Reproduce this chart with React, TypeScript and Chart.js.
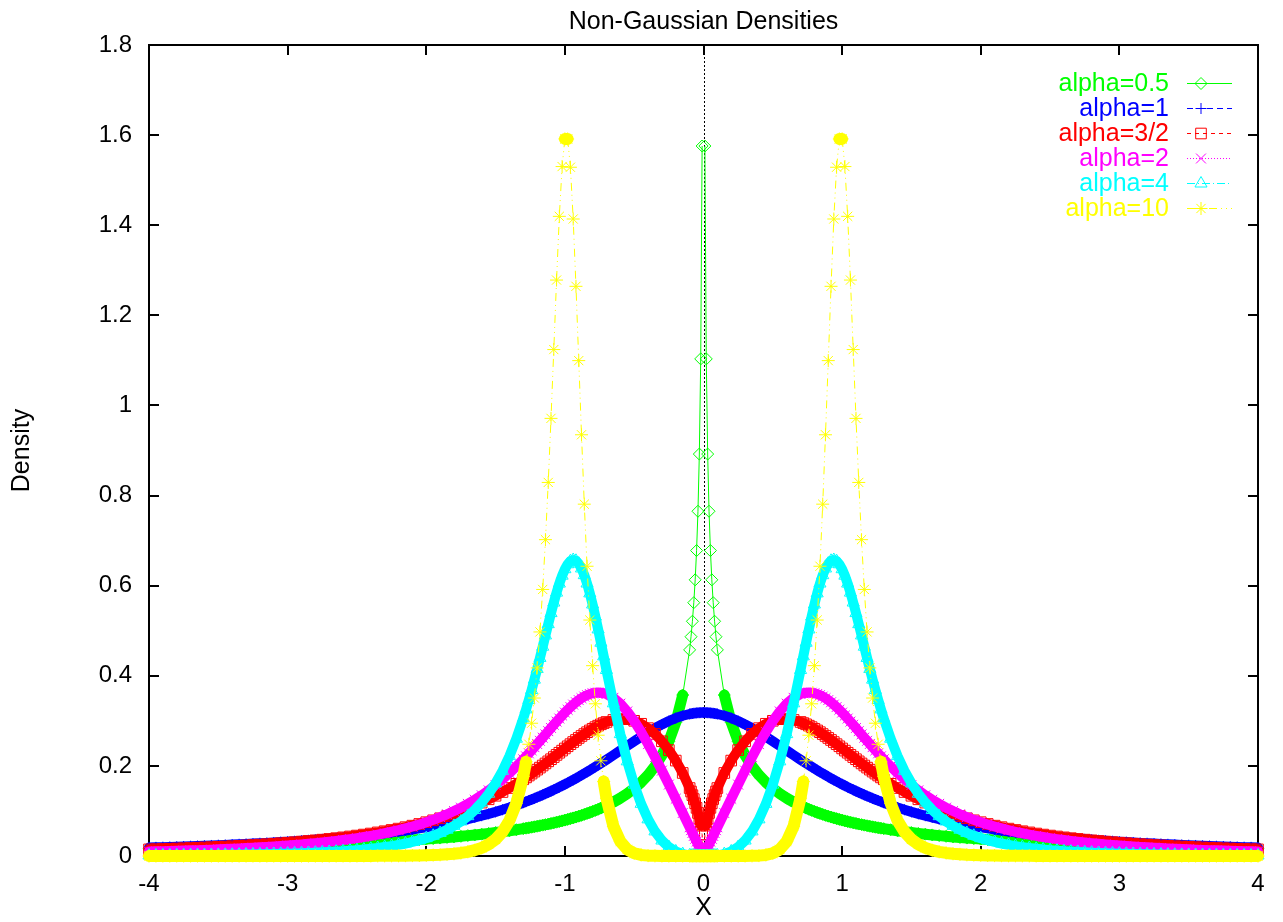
import React, { useEffect, useRef } from 'react';
import { Chart, registerables } from 'chart.js';

Chart.register(...registerables);

// Sample positions for x >= 0 (the densities are symmetric in x)
const xHalf = [
  0, 0.01, 0.02, 0.03, 0.04, 0.05, 0.06, 0.07, 0.08, 0.09, 0.1,
  0.15, 0.2, 0.25, 0.3, 0.35, 0.4, 0.45, 0.5, 0.55, 0.6, 0.65, 0.7,
  0.72, 0.74, 0.76, 0.78, 0.8, 0.82, 0.84, 0.86, 0.88, 0.9,
  0.92, 0.94, 0.96, 0.98, 1.0, 1.02, 1.04, 1.06, 1.08, 1.1,
  1.12, 1.14, 1.16, 1.18, 1.2, 1.22, 1.24, 1.26, 1.28, 1.3,
  1.35, 1.4, 1.45, 1.5, 1.55, 1.6, 1.65, 1.7, 1.75, 1.8, 1.85, 1.9, 1.95, 2.0,
  2.05, 2.1, 2.15, 2.2, 2.25, 2.3, 2.35, 2.4, 2.45, 2.5,
  2.55, 2.6, 2.65, 2.7, 2.75, 2.8, 2.85, 2.9, 2.95, 3.0,
  3.05, 3.1, 3.15, 3.2, 3.25, 3.3, 3.35, 3.4, 3.45, 3.5,
  3.55, 3.6, 3.65, 3.7, 3.75, 3.8, 3.85, 3.9, 3.95, 4.0,
];

const alpha05Half = [
  null, 1.5758, 1.1033, 0.8921, 0.7652, 0.6779, 0.6130, 0.5622, 0.5210, 0.4867, 0.4575,
  0.3573, 0.2966, 0.2546, 0.2235, 0.1993, 0.1797, 0.1636, 0.1501, 0.1385, 0.1284, 0.1196, 0.1119,
  0.1091, 0.1063, 0.1037, 0.1012, 0.0989, 0.0966, 0.0944, 0.0923, 0.0902, 0.0883,
  0.0864, 0.0846, 0.0829, 0.0812, 0.0796, 0.0780, 0.0765, 0.0750, 0.0736, 0.0723,
  0.0709, 0.0697, 0.0684, 0.0672, 0.0660, 0.0649, 0.0638, 0.0627, 0.0617, 0.0607,
  0.0583, 0.0560, 0.0539, 0.0520, 0.0501, 0.0484, 0.0468, 0.0452, 0.0437, 0.0424, 0.0411, 0.0398, 0.0386, 0.0375,
  0.0364, 0.0354, 0.0345, 0.0335, 0.0326, 0.0318, 0.0310, 0.0302, 0.0295, 0.0288,
  0.0281, 0.0274, 0.0268, 0.0262, 0.0256, 0.0250, 0.0245, 0.0240, 0.0235, 0.0230,
  0.0225, 0.0220, 0.0216, 0.0212, 0.0208, 0.0204, 0.0200, 0.0196, 0.0193, 0.0189,
  0.0186, 0.0182, 0.0179, 0.0176, 0.0173, 0.0170, 0.0167, 0.0164, 0.0162, 0.0159,
];

const alpha1Half = [
  0.3183, 0.3183, 0.3182, 0.3180, 0.3178, 0.3175, 0.3172, 0.3168, 0.3163, 0.3158, 0.3152,
  0.3113, 0.3061, 0.2996, 0.2920, 0.2836, 0.2744, 0.2647, 0.2546, 0.2444, 0.2341, 0.2238, 0.2136,
  0.2096, 0.2057, 0.2018, 0.1979, 0.1941, 0.1903, 0.1866, 0.1830, 0.1794, 0.1759,
  0.1724, 0.1690, 0.1656, 0.1624, 0.1592, 0.1560, 0.1529, 0.1499, 0.1469, 0.1440,
  0.1412, 0.1384, 0.1357, 0.1331, 0.1305, 0.1279, 0.1254, 0.1230, 0.1206, 0.1183,
  0.1128, 0.1075, 0.1026, 0.0979, 0.0936, 0.0894, 0.0855, 0.0818, 0.0784, 0.0751, 0.0720, 0.0690, 0.0663, 0.0637,
  0.0612, 0.0588, 0.0566, 0.0545, 0.0525, 0.0506, 0.0488, 0.0471, 0.0455, 0.0439,
  0.0424, 0.0410, 0.0397, 0.0384, 0.0372, 0.0360, 0.0349, 0.0338, 0.0328, 0.0318,
  0.0309, 0.0300, 0.0291, 0.0283, 0.0275, 0.0268, 0.0260, 0.0253, 0.0247, 0.0240,
  0.0234, 0.0228, 0.0222, 0.0217, 0.0211, 0.0206, 0.0201, 0.0196, 0.0192, 0.0187,
];

const alpha15Half = [
  0, 0.0477, 0.0675, 0.0827, 0.0955, 0.1068, 0.1169, 0.1263, 0.1350, 0.1431, 0.1508,
  0.1843, 0.2118, 0.2351, 0.2546, 0.2709, 0.2838, 0.2935, 0.3001, 0.3036, 0.3041, 0.3020, 0.2975,
  0.2950, 0.2923, 0.2893, 0.2860, 0.2824, 0.2787, 0.2748, 0.2706, 0.2664, 0.2620,
  0.2575, 0.2529, 0.2482, 0.2435, 0.2387, 0.2339, 0.2292, 0.2244, 0.2196, 0.2148,
  0.2101, 0.2054, 0.2008, 0.1962, 0.1917, 0.1873, 0.1829, 0.1786, 0.1744, 0.1703,
  0.1603, 0.1509, 0.1420, 0.1337, 0.1258, 0.1185, 0.1117, 0.1053, 0.0993, 0.0938, 0.0886, 0.0837, 0.0792, 0.0750,
  0.0711, 0.0674, 0.0640, 0.0608, 0.0578, 0.0550, 0.0524, 0.0499, 0.0476, 0.0454,
  0.0434, 0.0414, 0.0396, 0.0379, 0.0363, 0.0348, 0.0334, 0.0320, 0.0307, 0.0295,
  0.0284, 0.0273, 0.0263, 0.0253, 0.0244, 0.0235, 0.0226, 0.0218, 0.0211, 0.0204,
  0.0197, 0.0190, 0.0184, 0.0178, 0.0172, 0.0167, 0.0161, 0.0156, 0.0152, 0.0147,
];

const alpha2Half = [
  0, 0.0064, 0.0127, 0.0191, 0.0255, 0.0318, 0.0382, 0.0446, 0.0509, 0.0573, 0.0637,
  0.0954, 0.1271, 0.1585, 0.1895, 0.2195, 0.2483, 0.2752, 0.2996, 0.3208, 0.3381, 0.3511, 0.3594,
  0.3613, 0.3624, 0.3628, 0.3624, 0.3613, 0.3595, 0.3570, 0.3539, 0.3502, 0.3460,
  0.3412, 0.3361, 0.3305, 0.3245, 0.3183, 0.3118, 0.3051, 0.2983, 0.2913, 0.2842,
  0.2771, 0.2699, 0.2627, 0.2556, 0.2486, 0.2416, 0.2346, 0.2279, 0.2212, 0.2146,
  0.1989, 0.1841, 0.1703, 0.1575, 0.1457, 0.1348, 0.1249, 0.1157, 0.1073, 0.0997, 0.0926, 0.0862, 0.0803, 0.0749,
  0.0699, 0.0654, 0.0612, 0.0573, 0.0538, 0.0505, 0.0475, 0.0447, 0.0421, 0.0397,
  0.0375, 0.0354, 0.0335, 0.0317, 0.0301, 0.0285, 0.0271, 0.0257, 0.0245, 0.0233,
  0.0222, 0.0211, 0.0202, 0.0192, 0.0184, 0.0176, 0.0168, 0.0161, 0.0154, 0.0148,
  0.0141, 0.0136, 0.0130, 0.0125, 0.0120, 0.0115, 0.0111, 0.0107, 0.0103, 0.0099,
];

const alpha4Half = [
  0, 0, 0, 0, 0.0001, 0.0002, 0.0003, 0.0004, 0.0007, 0.0009, 0.0013,
  0.0043, 0.0102, 0.0199, 0.0344, 0.0546, 0.0814, 0.1158, 0.1585, 0.2101, 0.2705, 0.3389, 0.4129,
  0.4432, 0.4734, 0.5029, 0.5314, 0.5582, 0.5829, 0.6048, 0.6233, 0.6382, 0.6489,
  0.6552, 0.6570, 0.6544, 0.6475, 0.6366, 0.6222, 0.6047, 0.5846, 0.5626, 0.5391,
  0.5146, 0.4896, 0.4645, 0.4396, 0.4151, 0.3914, 0.3684, 0.3464, 0.3254, 0.3055,
  0.2604, 0.2217, 0.1890, 0.1614, 0.1382, 0.1187, 0.1022, 0.0884, 0.0767, 0.0668, 0.0583, 0.0511, 0.0449, 0.0396,
  0.0351, 0.0311, 0.0277, 0.0247, 0.0220, 0.0198, 0.0177, 0.0160, 0.0144, 0.0130,
  0.0118, 0.0107, 0.0097, 0.0089, 0.0081, 0.0074, 0.0068, 0.0062, 0.0057, 0.0052,
  0.0048, 0.0044, 0.0041, 0.0038, 0.0035, 0.0033, 0.0030, 0.0028, 0.0026, 0.0024,
  0.0023, 0.0021, 0.0020, 0.0018, 0.0017, 0.0016, 0.0015, 0.0014, 0.0013, 0.0012,
];

const alpha10Half = [
  0, 0, 0, 0, 0, 0, 0, 0, 0, 0, 0,
  0, 0, 0, 0.0001, 0.0003, 0.0008, 0.0024, 0.0062, 0.0147, 0.0321, 0.0659, 0.1284,
  0.1653, 0.2113, 0.2681, 0.3378, 0.4224, 0.5237, 0.6431, 0.7809, 0.9349, 1.0995,
  1.2644, 1.4138, 1.5287, 1.5914, 1.5915, 1.5302, 1.4197, 1.2783, 1.1240, 0.9713,
  0.8291, 0.7021, 0.5916, 0.4973, 0.4175, 0.3506, 0.2947, 0.2480, 0.2091, 0.1767,
  0.1170, 0.0785, 0.0534, 0.0368, 0.0257, 0.0181, 0.0129, 0.0093, 0.0068, 0.0050, 0.0037, 0.0027, 0.0021, 0.0016,
  0.0012, 0.0009, 0.0007, 0.0005, 0.0004, 0.0003, 0.0003, 0.0002, 0.0002, 0.0001,
  0.0001, 0.0001, 0.0001, 0.0001, 0, 0, 0, 0, 0, 0,
  0, 0, 0, 0, 0, 0, 0, 0, 0, 0,
  0, 0, 0, 0, 0, 0, 0, 0, 0, 0,
];

const seriesNames = ['alpha=0.5', 'alpha=1', 'alpha=3/2', 'alpha=2', 'alpha=4', 'alpha=10'];
const seriesHalves = [alpha05Half, alpha1Half, alpha15Half, alpha2Half, alpha4Half, alpha10Half];

const xTickValues = [-4, -3, -2, -1, 0, 1, 2, 3, 4];
const xTickLabels = ['-4', '-3', '-2', '-1', '0', '1', '2', '3', '4'];
const yTickLabels = ['0', '0.2', '0.4', '0.6', '0.8', '1', '1.2', '1.4', '1.6', '1.8'];

const chartTitle = 'Non-Gaussian Densities';
const xTitle = 'X';
const yTitle = 'Density';

// ---- styles ----
const COLORS = ['#00ff00', '#0000ff', '#ff0000', '#ff00ff', '#00ffff', '#ffff00'];
const POINT_STYLES = ['rectRot', 'cross', 'rect', 'crossRot', 'triangle', 'star'];
const POINT_RADII = [6, 5.5, 7.5, 7, 7, 6.5];
// width of the dense marker band where the sampled markers overlap
const BAND_WIDTHS = [11, 10, 10, 10, 10, 12];
const DASHES: number[][] = [[], [6, 4], [4, 4], [1, 2], [8, 3, 1, 3], [8, 4, 1, 4, 1, 4]];
const STEEP = 6; // pixel slope above which markers separate
const FONT = '"Liberation Sans", Arial, Helvetica, sans-serif';
const FS_TICK = 24;
const FS_TEXT = 25;

const mirrorX = (h: number[]) => [...h.slice(1).reverse().map((v) => -v), ...h];
const mirrorY = (h: (number | null)[]) => [...h.slice(1).reverse(), ...h];

function drawMarker(ctx: CanvasRenderingContext2D, style: string, x: number, y: number, r: number) {
  ctx.beginPath();
  const d = r * Math.SQRT1_2;
  switch (style) {
    case 'rectRot':
      ctx.moveTo(x - r, y); ctx.lineTo(x, y - r); ctx.lineTo(x + r, y); ctx.lineTo(x, y + r); ctx.closePath();
      break;
    case 'cross':
      ctx.moveTo(x - r, y); ctx.lineTo(x + r, y); ctx.moveTo(x, y - r); ctx.lineTo(x, y + r);
      break;
    case 'rect':
      ctx.rect(x - d, y - d, 2 * d, 2 * d);
      break;
    case 'crossRot':
      ctx.moveTo(x - d, y - d); ctx.lineTo(x + d, y + d); ctx.moveTo(x - d, y + d); ctx.lineTo(x + d, y - d);
      break;
    case 'triangle': {
      const s = r * Math.sin(Math.PI / 3);
      ctx.moveTo(x, y - r); ctx.lineTo(x + s, y + r / 2); ctx.lineTo(x - s, y + r / 2); ctx.closePath();
      break;
    }
    case 'star':
      ctx.moveTo(x - r, y); ctx.lineTo(x + r, y); ctx.moveTo(x, y - r); ctx.lineTo(x, y + r);
      ctx.moveTo(x - d, y - d); ctx.lineTo(x + d, y + d); ctx.moveTo(x - d, y + d); ctx.lineTo(x + d, y - d);
      break;
  }
  ctx.stroke();
}

const framePlugin = {
  id: 'gnuFrame',
  beforeDatasetsDraw(chart: any) {
    const { ctx, chartArea: a, scales } = chart;
    ctx.save();
    ctx.strokeStyle = '#000';
    ctx.lineWidth = 2;
    ctx.strokeRect(a.left, a.top, a.right - a.left, a.bottom - a.top);
    const tl = 10;
    ctx.beginPath();
    xTickValues.forEach((v) => {
      const px = Math.round(scales.x.getPixelForValue(v));
      ctx.moveTo(px, a.bottom); ctx.lineTo(px, a.bottom - tl);
      ctx.moveTo(px, a.top); ctx.lineTo(px, a.top + tl);
    });
    scales.y.ticks.forEach((t: any) => {
      const py = Math.round(scales.y.getPixelForValue(t.value));
      ctx.moveTo(a.left, py); ctx.lineTo(a.left + tl, py);
      ctx.moveTo(a.right, py); ctx.lineTo(a.right - tl, py);
    });
    ctx.stroke();
    // zero axis
    const x0 = Math.round(scales.x.getPixelForValue(0)) + 0.5;
    ctx.lineWidth = 1;
    ctx.setLineDash([2, 2]);
    ctx.beginPath();
    ctx.moveTo(x0, a.top); ctx.lineTo(x0, a.bottom);
    ctx.stroke();
    ctx.restore();
  },
  afterDraw(chart: any) {
    const { ctx, chartArea: a } = chart;
    ctx.save();
    ctx.font = `${FS_TEXT}px ${FONT}`;
    ctx.fillStyle = '#000';
    ctx.textAlign = 'center';
    ctx.textBaseline = 'middle';
    const cx = (a.left + a.right) / 2;
    ctx.fillText(chartTitle, cx, 22);
    ctx.fillText(xTitle, cx, 908);
    ctx.save();
    ctx.translate(22, (a.top + a.bottom) / 2);
    ctx.rotate(-Math.PI / 2);
    ctx.fillText(yTitle, 0, 0);
    ctx.restore();
    // legend
    ctx.textAlign = 'right';
    seriesNames.forEach((name, i) => {
      const y = a.top + 38 + i * 25;
      ctx.fillStyle = COLORS[i];
      ctx.fillText(name, a.right - 89, y + 1);
      ctx.strokeStyle = COLORS[i];
      ctx.lineWidth = 1;
      ctx.setLineDash(DASHES[i]);
      ctx.beginPath();
      ctx.moveTo(a.right - 71, y + 0.5); ctx.lineTo(a.right - 26, y + 0.5);
      ctx.stroke();
      ctx.setLineDash([]);
      drawMarker(ctx, POINT_STYLES[i], a.right - 57, y + 0.5, POINT_RADII[i]);
    });
    ctx.restore();
  },
};

const isSteep = (c: any) => {
  const dx = Math.abs(c.p1.x - c.p0.x);
  const dy = Math.abs(c.p1.y - c.p0.y);
  return dy > STEEP * Math.max(dx, 1e-6);
};

export default function App() {
  const ref = useRef<HTMLCanvasElement | null>(null);
  useEffect(() => {
    if (!ref.current) return;
    const xs = mirrorX(xHalf);
    const datasets = seriesHalves.map((half, i) => {
      const ys = mirrorY(half);
      return {
        label: seriesNames[i],
        data: xs.map((x, k) => ({ x, y: ys[k] })),
        showLine: true,
        borderColor: COLORS[i],
        borderWidth: 1,
        borderDash: DASHES[i],
        borderJoinStyle: 'round',
        borderCapStyle: 'round',
        segment: {
          borderWidth: (c: any) => (isSteep(c) ? 1 : BAND_WIDTHS[i]),
          borderDash: (c: any) => (isSteep(c) ? DASHES[i] : []),
          borderCapStyle: (c: any) => (isSteep(c) ? 'butt' : 'round'),
        },
        pointStyle: POINT_STYLES[i],
        pointRadius: POINT_RADII[i],
        pointBorderColor: COLORS[i],
        pointBackgroundColor: 'rgba(0,0,0,0)',
        pointBorderWidth: 1,
        spanGaps: false,
        clip: false,
        order: 5 - i,
      };
    });
    const chart = new Chart(ref.current, {
      type: 'scatter',
      data: { datasets: datasets as any },
      options: {
        responsive: false,
        animation: false,
        events: [],
        layout: { padding: { left: 0, right: 25, top: 45, bottom: 0 } },
        plugins: { legend: { display: false }, tooltip: { enabled: false }, title: { display: false } },
        scales: {
          x: {
            type: 'linear',
            min: -4,
            max: 4,
            grid: { display: false, drawTicks: false },
            border: { display: false },
            ticks: {
              stepSize: 1,
              padding: 14,
              color: '#000',
              font: { family: FONT, size: FS_TICK },
              callback: (v: any) => {
                const idx = xTickValues.indexOf(Number(v));
                return idx >= 0 ? xTickLabels[idx] : '';
              },
              maxRotation: 0,
            },
            afterFit: (s: any) => { s.height = 66; },
          },
          y: {
            type: 'linear',
            min: 0,
            max: 1.8,
            grid: { display: false, drawTicks: false },
            border: { display: false },
            ticks: {
              stepSize: 0.2,
              padding: 17,
              color: '#000',
              font: { family: FONT, size: FS_TICK },
              callback: (_v: any, idx: number) => yTickLabels[idx] ?? '',
            },
            afterFit: (s: any) => { s.width = 149; },
          },
        },
      },
      plugins: [framePlugin],
    });
    return () => chart.destroy();
  }, []);
  return (
    <div style={{ position: 'absolute', left: 0, top: 0, width: 1283, height: 922, background: '#fff' }}>
      <canvas ref={ref} width={1283} height={922} style={{ display: 'block' }} />
    </div>
  );
}
